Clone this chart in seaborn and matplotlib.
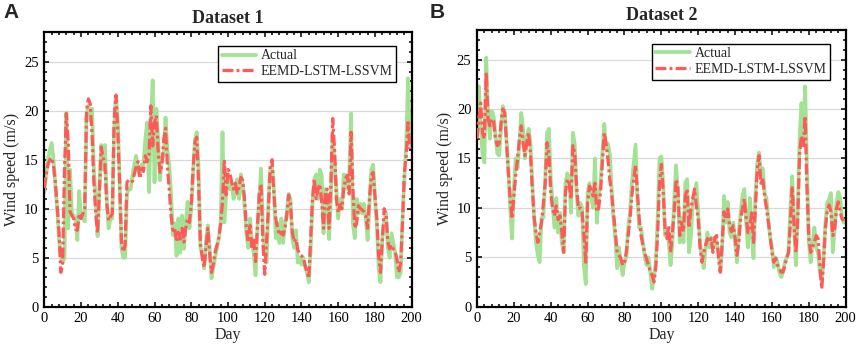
import numpy as np
import pandas as pd
import matplotlib
matplotlib.use("Agg")
import matplotlib.pyplot as plt
from matplotlib.ticker import MultipleLocator
import seaborn as sns

# ---------------- data ----------------
days = list(range(200))

actual_1 = [
    11.7, 13.5, 15.0, 16.0, 16.7, 15.0, 12.5, 10.0, 7.0, 5.2,
    4.5, 5.0, 19.8, 8.0, 14.0, 9.5, 9.3, 9.0, 6.8, 11.8,
    9.0, 9.3, 8.7, 19.5, 20.5, 19.0, 20.2, 14.0, 11.0, 7.2,
    12.0, 16.5, 14.0, 16.5, 11.0, 8.0, 9.0, 9.0, 18.0, 21.5,
    19.0, 13.0, 6.0, 5.0, 5.0, 11.5, 12.0, 12.0, 13.4, 14.5,
    15.4, 14.0, 13.5, 14.5, 14.5, 17.1, 18.8, 11.7, 18.8, 23.1,
    12.7, 20.2, 17.0, 12.9, 15.0, 15.5, 19.3, 16.0, 14.5, 11.5,
    7.3, 8.5, 5.2, 9.0, 5.5, 9.3, 5.9, 8.5, 10.7, 8.0,
    10.0, 13.5, 17.0, 17.8, 14.0, 6.0, 5.5, 3.9, 6.6, 8.3,
    6.0, 2.9, 4.0, 5.0, 6.0, 7.0, 8.5, 17.8, 8.6, 11.5,
    13.5, 12.0, 12.5, 11.0, 11.5, 13.0, 11.0, 13.5, 12.5, 10.3,
    7.5, 6.0, 9.0, 6.5, 5.5, 3.2, 8.0, 11.0, 14.1, 8.0,
    5.5, 4.5, 10.5, 14.0, 14.4, 12.0, 7.0, 8.5, 6.5, 9.0,
    6.5, 8.5, 9.5, 11.5, 11.0, 7.0, 6.0, 7.8, 4.5, 5.0,
    4.3, 5.0, 4.0, 3.5, 2.5, 6.0, 10.5, 13.0, 13.5, 11.0,
    14.0, 13.4, 7.5, 12.0, 11.0, 6.9, 11.0, 17.5, 15.0, 12.0,
    9.0, 11.0, 10.0, 13.5, 13.4, 12.0, 13.5, 19.7, 8.5, 7.0,
    11.0, 9.5, 10.5, 9.5, 10.5, 9.0, 6.8, 10.5, 14.0, 14.5,
    11.0, 8.5, 4.0, 2.5, 7.0, 8.6, 9.5, 6.0, 5.0, 7.5,
    6.5, 5.5, 3.0, 3.0, 3.5, 9.0, 13.0, 16.5, 23.3, 16.5,
]

pred_1 = [
    12.1, 13.5, 14.5, 15.0, 15.2, 14.4, 12.7, 10.3, 7.6, 3.5,
    4.5, 14.0, 19.7, 16.9, 9.7, 9.3, 9.0, 7.9, 7.8, 9.5,
    9.0, 9.5, 10.0, 20.0, 21.2, 20.7, 17.5, 12.7, 9.5, 7.5,
    12.0, 16.3, 15.2, 14.5, 10.5, 8.8, 9.2, 9.5, 19.0, 21.6,
    18.0, 12.7, 6.6, 5.6, 6.3, 12.7, 12.9, 12.7, 12.8, 13.5,
    14.4, 14.8, 13.1, 14.1, 13.8, 15.4, 14.8, 15.5, 20.5, 16.4,
    18.8, 19.5, 15.8, 13.7, 14.4, 17.0, 18.2, 14.4, 12.0, 9.3,
    7.8, 8.0, 6.6, 7.6, 6.9, 8.0, 6.6, 8.0, 9.0, 8.6,
    10.5, 14.1, 16.8, 17.3, 12.5, 6.3, 5.0, 4.0, 6.0, 8.0,
    5.5, 3.5, 4.3, 5.6, 6.3, 7.1, 8.5, 10.7, 15.0, 11.4,
    14.0, 13.7, 12.7, 12.0, 12.6, 11.6, 12.2, 13.2, 12.9, 11.0,
    8.0, 6.6, 8.3, 5.9, 6.8, 4.6, 8.0, 11.5, 12.5, 6.5,
    3.3, 6.6, 10.0, 14.4, 15.0, 11.5, 9.0, 8.0, 7.3, 7.6,
    7.3, 8.0, 9.3, 11.4, 10.5, 7.6, 6.6, 6.9, 5.8, 5.4,
    5.2, 5.0, 4.2, 3.5, 2.9, 7.0, 11.0, 13.0, 11.0, 12.0,
    12.5, 10.7, 8.0, 11.8, 12.0, 8.0, 12.5, 19.2, 16.1, 11.0,
    9.6, 10.4, 10.0, 12.0, 13.1, 13.4, 11.5, 17.8, 12.0, 8.0,
    8.5, 10.3, 10.0, 9.9, 9.7, 9.3, 8.0, 11.0, 13.4, 13.7,
    11.4, 9.0, 5.2, 3.5, 6.7, 10.0, 9.5, 6.6, 5.9, 6.3,
    5.9, 5.6, 4.8, 3.5, 4.5, 8.6, 13.7, 15.4, 18.8, 16.1,
]

actual_2 = [
    17.6, 22.3, 18.5, 15.3, 14.6, 25.2, 19.5, 17.0, 19.8, 19.3,
    17.5, 15.5, 15.3, 18.0, 20.3, 19.8, 17.0, 14.0, 10.0, 6.9,
    12.0, 15.0, 14.0, 16.5, 19.6, 18.0, 15.0, 17.0, 18.0, 16.5,
    12.5, 9.0, 6.5, 5.2, 4.5, 9.0, 9.0, 12.8, 17.6, 18.0,
    13.0, 10.5, 8.0, 11.0, 7.5, 9.5, 6.5, 5.5, 12.5, 13.5,
    13.0, 9.5, 17.6, 16.5, 11.5, 9.2, 10.5, 10.0, 4.1, 2.3,
    11.5, 12.5, 11.0, 10.0, 15.0, 8.5, 11.0, 12.5, 15.5, 18.5,
    16.0, 16.5, 15.5, 12.0, 9.0, 7.0, 3.9, 6.0, 4.5, 3.2,
    4.5, 5.0, 8.0, 9.5, 12.5, 14.5, 16.4, 11.0, 8.0, 8.0,
    6.5, 5.0, 4.2, 5.0, 3.5, 1.8, 3.0, 4.5, 9.0, 15.0,
    15.2, 12.5, 7.2, 7.8, 6.5, 4.2, 6.5, 11.0, 14.3, 11.5,
    6.5, 9.0, 6.5, 12.5, 12.9, 5.5, 7.0, 10.5, 11.5, 12.5,
    9.5, 6.5, 5.0, 3.9, 6.0, 7.5, 6.0, 7.0, 6.0, 7.0,
    6.5, 5.5, 3.5, 6.0, 11.2, 8.5, 10.6, 7.5, 7.0, 8.5,
    6.5, 4.5, 7.5, 9.5, 11.2, 11.9, 8.5, 6.0, 11.0, 7.5,
    4.9, 11.0, 14.5, 15.6, 13.5, 14.0, 11.5, 11.0, 9.0, 7.0,
    6.0, 4.0, 5.0, 4.5, 3.5, 3.0, 3.5, 4.5, 5.0, 5.5,
    10.0, 13.2, 8.0, 4.2, 10.0, 17.0, 20.6, 17.0, 22.3, 14.0,
    6.5, 4.5, 6.5, 8.0, 6.0, 5.5, 3.5, 2.5, 5.0, 8.5,
    10.5, 10.9, 11.5, 5.5, 8.0, 10.5, 11.6, 11.0, 9.0, 8.5,
]

pred_2 = [
    17.0, 19.0, 20.6, 17.6, 17.0, 23.7, 19.0, 18.3, 19.0, 18.8,
    17.0, 16.3, 16.5, 18.5, 20.0, 19.6, 16.6, 13.6, 10.9, 8.9,
    11.2, 13.3, 15.0, 17.0, 18.3, 16.6, 15.3, 16.6, 17.6, 15.5,
    12.0, 9.0, 7.5, 6.5, 7.6, 8.5, 10.5, 12.5, 16.6, 15.5,
    11.6, 9.9, 9.2, 10.2, 8.8, 9.2, 7.6, 5.5, 11.6, 12.9,
    12.5, 10.9, 16.3, 15.6, 12.2, 9.9, 10.0, 9.6, 7.2, 4.5,
    10.6, 12.2, 11.8, 11.2, 12.5, 9.6, 10.0, 11.6, 14.6, 17.6,
    16.5, 15.0, 12.9, 11.5, 9.6, 7.6, 5.5, 5.2, 4.9, 4.2,
    4.5, 5.5, 7.2, 8.9, 11.2, 12.9, 14.3, 11.6, 8.9, 7.2,
    6.2, 5.5, 4.8, 4.2, 3.5, 3.2, 2.5, 4.0, 7.5, 12.5,
    14.4, 11.6, 7.9, 6.9, 8.2, 5.5, 7.5, 9.6, 12.9, 12.0,
    7.2, 8.5, 7.6, 11.2, 11.9, 8.0, 9.9, 10.9, 11.9, 10.2,
    8.9, 6.0, 4.5, 5.5, 6.2, 6.9, 6.5, 6.9, 5.5, 7.0,
    7.2, 5.0, 3.5, 6.5, 9.6, 8.9, 9.9, 8.2, 7.6, 8.2,
    7.0, 5.2, 6.5, 8.9, 9.9, 10.9, 9.0, 7.5, 8.0, 9.5,
    6.5, 10.0, 13.9, 15.3, 12.5, 13.0, 11.2, 10.0, 8.6, 7.2,
    5.5, 4.5, 4.9, 4.2, 3.9, 3.5, 3.5, 4.2, 4.9, 5.5,
    8.5, 12.2, 8.2, 5.5, 8.9, 15.5, 17.3, 16.3, 19.3, 12.0,
    7.0, 5.5, 6.0, 6.5, 7.2, 6.9, 4.2, 1.8, 4.5, 8.0,
    9.7, 10.3, 9.6, 7.2, 7.8, 9.9, 10.6, 9.6, 8.9, 8.7,
]

titles = ["Dataset 1", "Dataset 2"]
panel_letters = ["A", "B"]
series_labels = ["Actual", "EEMD-LSTM-LSSVM"]
x_ticks = [0, 20, 40, 60, 80, 100, 120, 140, 160, 180, 200]
y_ticks = [0, 5, 10, 15, 20, 25]

# ---------------- style ----------------
sns.set_theme(style="white")
plt.rcParams["font.family"] = ["Liberation Serif", "DejaVu Serif"]

GREEN = "#a3e295"
RED = "#ff5959"

fig = plt.figure(figsize=(8.58, 3.48), dpi=100)
axes_rects = [
    [44.3 / 858, (348 - 306.7) / 348, 367.4 / 858, (306.7 - 32.3) / 348],
    [477.0 / 858, (348 - 306.7) / 348, 368.7 / 858, (306.7 - 30.0) / 348],
]
letter_x = [3 / 858, 430 / 858]

datasets = [(actual_1, pred_1), (actual_2, pred_2)]

for i, (act, pred) in enumerate(datasets):
    ax = fig.add_axes(axes_rects[i])
    df = pd.DataFrame({"Day": days, "Actual": act, "Pred": pred})

    for yv in y_ticks[1:]:
        ax.axhline(yv, color="#d9d9d9", linewidth=0.9, zorder=0)

    sns.lineplot(data=df, x="Day", y="Actual", ax=ax, color=GREEN,
                 linewidth=2.7, label=series_labels[0], zorder=2)
    sns.lineplot(data=df, x="Day", y="Pred", ax=ax, color=RED,
                 linewidth=2.3, linestyle=(0, (3.4, 1.0, 0.9, 1.0)),
                 label=series_labels[1], zorder=3)

    ax.set_xlim(0, 200)
    ax.set_ylim(0, 28)
    ax.set_xticks(x_ticks)
    ax.set_yticks(y_ticks)
    ax.xaxis.set_minor_locator(MultipleLocator(4))
    ax.yaxis.set_minor_locator(MultipleLocator(1))
    ax.tick_params(which="both", direction="in", top=True, right=True,
                   bottom=True, left=True, width=1.1, colors="black",
                   labelsize=10.5, pad=4)
    ax.tick_params(which="major", length=3.5)
    ax.tick_params(which="minor", length=2)
    for sp in ax.spines.values():
        sp.set_linewidth(1.6)
        sp.set_color("black")

    ax.set_xlabel("Day", fontsize=11.5, labelpad=1)
    ax.set_ylabel("Wind speed (m/s)", fontsize=11.5, labelpad=3)
    ax.set_title(titles[i], fontsize=13, fontweight="bold", pad=7)

    leg = ax.legend(loc="upper right", bbox_to_anchor=(0.957, 0.95),
                    borderaxespad=0, fontsize=10, frameon=True,
                    fancybox=False, edgecolor="black", framealpha=1,
                    borderpad=0.25, labelspacing=0.2, handlelength=2.5,
                    handletextpad=0.3)
    leg.get_frame().set_linewidth(1.0)

    fig.text(letter_x[i], 0.99, panel_letters[i], fontsize=15,
             fontweight="bold", family=["Liberation Sans", "DejaVu Sans"],
             ha="left", va="top")

fig.savefig("out.png", dpi=100, facecolor="white")
